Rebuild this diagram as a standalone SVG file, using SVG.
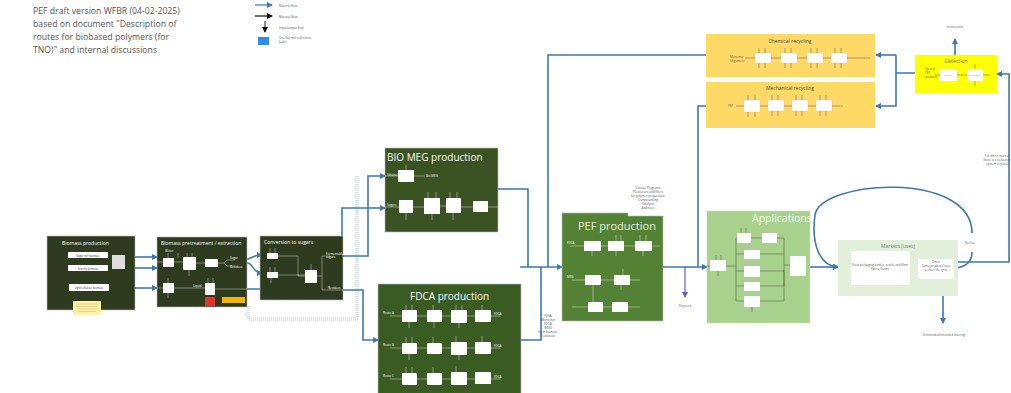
<svg xmlns="http://www.w3.org/2000/svg" width="1011" height="393" viewBox="0 0 1011 393">
<defs>
<marker id="ab" markerWidth="6" markerHeight="6" refX="5" refY="3" orient="auto" markerUnits="userSpaceOnUse"><path d="M0,0 L6,3 L0,6 z" fill="#3b78b5"/></marker>
<marker id="ak" markerWidth="6" markerHeight="6" refX="5" refY="3" orient="auto" markerUnits="userSpaceOnUse"><path d="M0,0 L6,3 L0,6 z" fill="#111"/></marker>
<marker id="ap" markerWidth="6" markerHeight="6" refX="5" refY="3" orient="auto" markerUnits="userSpaceOnUse"><path d="M0,0 L6,3 L0,6 z" fill="#5b63c9"/></marker>
</defs>
<style>
text{font-family:"Open Sans","Liberation Sans",sans-serif}
.flow{fill:none;stroke:#3b78b5;stroke-width:1.6;marker-end:url(#ab)}
.line{fill:none;stroke:#3b78b5;stroke-width:1.6}
.dot{fill:none;stroke:#9fb9d6;stroke-width:0.8;stroke-dasharray:1,1}
.wb{fill:#fff}
.wl{fill:none;stroke:#fff;stroke-width:0.4}
.gl{fill:none;stroke:#385723;stroke-width:0.5}
.kl{fill:none;stroke:#333;stroke-width:0.4}
.dg{fill:#2e3b1f;stroke:#b8b8b8;stroke-width:0.6}
.t5{font-size:5px;fill:#fff}
.tt{font-size:3px;fill:#fff}
.tg{font-size:3px;fill:#555}
.big{font-size:10px;fill:#fff}
</style>

<g id="title">
<text x="33" y="14" font-size="8.7" fill="#555">PEF draft version WFBR (04-02-2025)</text>
<text x="33" y="27" font-size="8.7" fill="#555">based on document "Description of</text>
<text x="33" y="40" font-size="8.7" fill="#555">routes for biobased polymers (for</text>
<text x="33" y="53" font-size="8.7" fill="#555">TNO)" and internal discussions</text>
</g>

<g id="legend">
<line x1="255" y1="5" x2="272" y2="5" stroke="#3b78b5" stroke-width="1.2" marker-end="url(#ab)"/>
<line x1="255" y1="16" x2="272" y2="16" stroke="#111" stroke-width="1.2" marker-end="url(#ak)"/>
<line x1="265" y1="21" x2="265" y2="32" stroke="#111" stroke-width="1" marker-end="url(#ak)"/>
<rect x="258" y="37" width="11" height="8" fill="#2f8de4"/>
<text x="279" y="7" class="tg">Material flow</text>
<text x="279" y="18" class="tg">Material flow</text>
<text x="279" y="29" class="tg">Input/output flow</text>
<text x="279" y="39" class="tg">Overlap met referentie</text>
<text x="279" y="43" class="tg">kader</text>
</g>

<g id="connectors">
<path class="dot" d="M247,306 V318 H356 V175"/>
<path class="dot" d="M249,306 V320 H358 V175"/>
<path class="flow" d="M135,257 H157"/>
<path class="flow" d="M135,268 H157"/>
<path class="flow" d="M135,288 H157"/>
<path class="flow" d="M247,259 C252,259 252,255 262,255"/>
<path class="flow" d="M247,263 C254,263 252,273 262,273"/>
<path class="flow" d="M247,289 H302 V276 H305"/>
<path class="flow" d="M342,252 V208 H385"/>
<path class="flow" d="M343,256 H368 V176 H385"/>
<path class="flow" d="M343,290 H363 V340 H378"/>
<path class="line" d="M498,189 H528 V267"/>
<path class="line" d="M521,340 H541 V267"/>
<path class="line" d="M706,55 H548 V267"/>
<path class="flow" d="M520,267 H562"/>
<path class="line" d="M706,106 H698 V267"/>
<path class="flow" d="M663,267 H707"/>
<path fill="none" stroke="#5b63c9" stroke-width="1.2" marker-end="url(#ap)" d="M685,267 V297"/>
<path class="flow" d="M810,267 H838"/>
<path class="flow" d="M972,233 C972,170 820,180 815,215 C811,245 820,266 838,267"/>
<path class="line" d="M972,252 C972,262 965,267 955,268"/>
<path class="flow" d="M958,262 H1009 V74 H997"/>
<path class="flow" d="M943,296 V323"/>
<path class="flow" d="M955,55 V39"/>
<path class="line" d="M915,73 H896 V55"/>
<path class="flow" d="M896,55 H876"/>
<path class="flow" d="M896,73 V106 H876"/>
</g>

<g id="labels">
<text x="685" y="307" font-size="4" fill="#5b63c9" text-anchor="middle">Export</text>
<text x="970" y="244" class="tg" text-anchor="middle">Re-Use</text>
<text x="955" y="28" class="tg" text-anchor="middle">Incineration</text>
<text x="944" y="336" class="tg" text-anchor="middle">Unintended/intended littering</text>
<text x="997" y="157" class="tg" text-anchor="middle">For which market</text>
<text x="997" y="161" class="tg" text-anchor="middle">there is a collection</text>
<text x="997" y="165" class="tg" text-anchor="middle">system in place</text>
<g class="tg" text-anchor="middle">
<text x="648" y="189">Various Programs</text>
<text x="648" y="193">Plasticisers and fillers</text>
<text x="648" y="197">for polymer preparation</text>
<text x="648" y="201">Compounding</text>
<text x="648" y="205">Catalysts</text>
<text x="648" y="209">Additives</text>
</g>
<g class="tg" text-anchor="middle">
<text x="548" y="317">FDCA</text>
<text x="548" y="321">(Monomer</text>
<text x="548" y="325">FDCA)</text>
<text x="548" y="329">(MEG)</text>
<text x="548" y="333">from biomass</text>
<text x="548" y="337">feedstock</text>
</g>
</g>

<g id="biomass-production">
<rect class="dg" x="47" y="236" width="88" height="74"/>
<text x="62" y="245" class="t5">Biomass production</text>
<rect class="wb" x="68" y="252" width="40" height="6"/>
<rect class="wb" x="68" y="265" width="40" height="6"/>
<rect class="wb" x="69" y="284" width="40" height="7"/>
<text x="88" y="256.5" font-size="2.6" fill="#333" text-anchor="middle">Sugar rich biomass</text>
<text x="88" y="269.5" font-size="2.6" fill="#333" text-anchor="middle">Starchy biomass</text>
<text x="89" y="288.8" font-size="2.6" fill="#333" text-anchor="middle">Lignocellulosic biomass</text>
<rect x="112" y="255" width="13" height="14" fill="#ddd"/>
<rect x="73" y="301" width="28" height="14" fill="#fff2a8"/>
<g stroke="#c8b560" stroke-width="0.5"><line x1="76" y1="304" x2="98" y2="304"/><line x1="76" y1="306.5" x2="98" y2="306.5"/><line x1="76" y1="309" x2="98" y2="309"/><line x1="78" y1="311.5" x2="96" y2="311.5"/></g>
</g>

<g id="pretreatment">
<rect class="dg" x="157" y="237" width="90" height="70"/>
<text x="161" y="245" class="t5">Biomass pretreatment / extraction</text>
<rect class="wb" x="163" y="258" width="11" height="9"/>
<rect class="wb" x="183" y="257" width="13" height="13"/>
<rect class="wb" x="205" y="259" width="13" height="8"/>
<rect class="wb" x="163" y="283" width="11" height="10"/>
<rect class="wb" x="205" y="283" width="10" height="12"/>
<rect x="205" y="297" width="10" height="9" fill="#e5332a"/>
<rect x="222" y="297" width="23" height="6" fill="#f4b400"/>
<path class="wl" d="M157,262 H163 M174,262 H183 M196,263 H205 M218,263 H224 L227,260 H235 M224,263 L227,266 H235 M157,288 H163 M174,288 H205 M215,289 H247 M168,253 V258 M178,253 V258 M187,253 V257 M192,253 V257 M168,278 V283 M208,278 V283 M213,278 V283 M189,270 V276 M168,293 V298"/>
<text x="165" y="252" class="tt">Water</text>
<text x="230" y="259" class="tt">Sugar</text>
<text x="230" y="268" class="tt">Residues</text>
<text x="193" y="287" class="tt">Liquid</text>
</g>

<g id="conversion">
<rect class="dg" x="260" y="236" width="83" height="64"/>
<text x="264" y="244" class="t5">Conversion to sugars</text>
<rect class="wb" x="267" y="253" width="11" height="6"/>
<rect class="wb" x="267" y="272" width="11" height="6"/>
<rect class="wb" x="305" y="270" width="12" height="13"/>
<path class="wl" d="M278,256 H298 V276 H305 M278,275 H305 M317,276 H322 V256 H330 M322,276 V290 H343 M270,248 V253 M275,248 V253 M270,267 V272 M275,267 V272 M311,264 V270 M271,278 V283"/>
<text x="326" y="255" class="tt">Fermentable</text>
<text x="326" y="258" class="tt">sugars</text>
<text x="328" y="289" class="tt">Residues</text>
</g>

<g id="bio-meg">
<rect x="385" y="148" width="113" height="84" fill="#3b5323" stroke="#b8b8b8" stroke-width="0.6"/>
<text x="387" y="161" class="big">BIO MEG production</text>
<rect class="wb" x="398" y="170" width="16" height="12"/>
<rect class="wb" x="399" y="200" width="14" height="13"/>
<rect class="wb" x="424" y="198" width="16" height="16"/>
<rect class="wb" x="446" y="198" width="15" height="15"/>
<rect class="wb" x="473" y="201" width="15" height="11"/>
<path class="wl" d="M385,176 H398 M414,176 H425 M385,207 H399 M413,207 H424 M440,206 H446 M461,207 H473 M488,207 H498 M406,213 V220 M432,214 V220 M453,213 V220 M428,192 V198 M436,192 V198 M450,192 V198 M457,192 V198 M406,165 V170"/>
<text x="426" y="177" class="tt">Bio MEG</text>
<text x="387" y="176" class="tt">Ethanol</text>
<text x="387" y="206" class="tt">Sugars</text>
</g>

<g id="fdca">
<rect x="378" y="284" width="143" height="112" fill="#3a5b22" stroke="#b8b8b8" stroke-width="0.6"/>
<text x="410" y="300" class="big">FDCA production</text>
<g class="wb">
<rect x="402" y="310" width="15" height="12"/><rect x="427" y="310" width="15" height="12"/><rect x="451" y="310" width="16" height="13"/><rect x="475" y="310" width="16" height="12"/>
<rect x="402" y="343" width="15" height="11"/><rect x="427" y="343" width="15" height="11"/><rect x="451" y="342" width="16" height="13"/><rect x="475" y="342" width="16" height="12"/>
<rect x="402" y="373" width="15" height="12"/><rect x="427" y="373" width="15" height="12"/><rect x="451" y="372" width="16" height="13"/><rect x="475" y="372" width="16" height="12"/>
</g>
<path class="wl" d="M390,316 H402 M417,316 H427 M442,316 H451 M467,316 H475 M491,316 H501 M390,348 H402 M417,348 H427 M442,348 H451 M467,348 H475 M491,348 H501 M390,379 H402 M417,379 H427 M442,379 H451 M467,379 H475 M491,379 H501 M406,305 V310 M412,305 V310 M433,305 V310 M456,305 V310 M462,305 V310 M482,305 V310 M409,322 V328 M434,322 V328 M459,323 V328 M406,337 V343 M412,337 V343 M433,337 V343 M456,336 V342 M482,336 V342 M409,354 V360 M459,355 V360 M406,367 V373 M412,367 V373 M433,367 V373 M456,366 V372"/>
<text x="383" y="314" class="tt">Route A</text>
<text x="383" y="346" class="tt">Route B</text>
<text x="383" y="377" class="tt">Route C</text>
<text x="494" y="315" class="tt">FDCA</text>
<text x="494" y="347" class="tt">FDCA</text>
<text x="494" y="378" class="tt">FDCA</text>
</g>

<g id="pef">
<path d="M562,213 H628 V216 H663 V321 H562 Z" fill="#548235" stroke="#b8b8b8" stroke-width="0.6"/>
<text x="578" y="230" font-size="11" fill="#e8f0e0">PEF production</text>
<g class="wb">
<rect x="584" y="241" width="17" height="10"/><rect x="608" y="241" width="16" height="10"/><rect x="635" y="241" width="17" height="10"/>
<rect x="585" y="275" width="16" height="10"/><rect x="614" y="275" width="16" height="10"/>
<rect x="588" y="302" width="15" height="10"/><rect x="612" y="302" width="16" height="10"/>
</g>
<path class="wl" d="M570,246 H584 M601,246 H608 M624,246 H635 M652,246 H660 M572,280 H585 M601,280 H614 M630,280 H640 M572,307 H588 M603,307 H612 M628,307 H640 M616,235 V241 M621,235 V241 M640,235 V241 M646,235 V241 M592,251 V256 M616,251 V256 M643,251 V256 M623,269 V275 M593,285 V302 M621,285 V290"/>
<text x="567" y="244" class="tt">FDCA</text>
<text x="567" y="278" class="tt">MEG</text>
</g>

<g id="applications">
<rect x="707" y="211" width="103" height="112" fill="#a9d18e" stroke="#c9e3b8" stroke-width="0.6"/>
<text x="752" y="222" font-size="10.5" fill="#f2f8ee">Applications</text>
<g class="wb">
<rect x="710" y="260" width="16" height="11"/>
<rect x="737" y="233" width="14" height="10"/><rect x="762" y="233" width="15" height="10"/>
<rect x="744" y="250" width="16" height="9"/><rect x="744" y="266" width="16" height="11"/><rect x="744" y="282" width="16" height="9"/><rect x="744" y="296" width="16" height="11"/>
<rect x="790" y="256" width="16" height="20"/>
</g>
<path class="gl" d="M707,266 H710 M726,266 H736 M736,238 V301 M736,238 H737 M751,238 H762 M777,238 H784 V265 H790 M736,254 H744 M736,271 H744 M736,286 H744 M736,301 H744 M760,254 H784 M760,271 H784 M760,286 H784 M760,301 H784 V270 M741,228 V233 M746,228 V233 M716,255 V260 M721,255 V260 M718,271 V276 M752,307 V312 M784,265 V286"/>
</g>

<g id="markets">
<rect x="838" y="240" width="120" height="56" fill="#e2efda"/>
<text x="898" y="248" font-size="5" fill="#777" text-anchor="middle">Markets (uses)</text>
<rect class="wb" x="851" y="251" width="59" height="34"/>
<rect class="wb" x="918" y="259" width="36" height="20"/>
<text x="880" y="266" class="tg" text-anchor="middle">Food packaging bottles, textile and films</text>
<text x="880" y="270" class="tg" text-anchor="middle">fibers, foams</text>
<text x="936" y="263" class="tg" text-anchor="middle">Other</text>
<text x="936" y="267" class="tg" text-anchor="middle">Some products have</text>
<text x="936" y="271" class="tg" text-anchor="middle">a short life cycle</text>
</g>

<g id="chemical-recycling">
<rect x="706" y="34" width="169" height="43" fill="#ffd966"/>
<text x="790" y="43" font-size="5" fill="#444" text-anchor="middle">Chemical recycling</text>
<g class="wb" stroke="#bbb" stroke-width="0.3"><rect x="755" y="53" width="16" height="10"/><rect x="781" y="53" width="16" height="10"/><rect x="807" y="53" width="16" height="10"/><rect x="831" y="53" width="16" height="10"/></g>
<path class="kl" d="M870,58 H847 M831,58 H823 M807,58 H797 M781,58 H771 M755,58 H745 M759,48 V53 M765,48 V53 M785,48 V53 M791,48 V53 M811,48 V53 M817,48 V53 M835,48 V53 M841,48 V53 M759,63 V68 M765,63 V68 M785,63 V68 M791,63 V68 M811,63 V68 M817,63 V68 M835,63 V68 M841,63 V68"/>
<text x="730" y="58" class="tg">Monomer</text>
<text x="730" y="62" class="tg">Oligomers</text>
</g>

<g id="mechanical-recycling">
<rect x="706" y="82" width="169" height="46" fill="#ffd966"/>
<text x="790" y="90" font-size="5" fill="#444" text-anchor="middle">Mechanical recycling</text>
<g class="wb" stroke="#bbb" stroke-width="0.3"><rect x="744" y="100" width="16" height="12"/><rect x="768" y="100" width="16" height="11"/><rect x="792" y="100" width="16" height="11"/><rect x="816" y="100" width="16" height="11"/></g>
<path class="kl" d="M843,106 H832 M816,106 H808 M792,106 H784 M768,106 H760 M744,106 H736 M748,95 V100 M755,95 V100 M772,95 V100 M778,95 V100 M796,95 V100 M802,95 V100 M820,95 V100 M826,95 V100 M748,112 V117 M755,112 V117 M772,111 V116 M778,111 V116 M796,111 V116 M802,111 V116 M820,111 V116 M826,111 V116"/>
<text x="728" y="107" class="tg">PEF</text>
</g>

<g id="collection">
<rect x="915" y="55" width="82" height="38" fill="#ffff00"/>
<text x="956" y="63" font-size="5" fill="#777" text-anchor="middle">Collection</text>
<rect class="wb" x="940" y="69" width="17" height="12"/>
<rect class="wb" x="967" y="69" width="16" height="12"/>
<path class="kl" d="M940,75 H935 M967,75 H957 M990,75 H983 M975,64 V69 M975,81 V86"/>
<text x="925" y="70" class="tg">Sorted</text>
<text x="925" y="74" class="tg">PEF</text>
<text x="925" y="78" class="tg">products</text>
<text x="948.5" y="76" font-size="2.5" fill="#999" text-anchor="middle">Sorting</text>
<text x="975" y="76" font-size="2.5" fill="#999" text-anchor="middle">Collection</text>
</g>
</svg>
